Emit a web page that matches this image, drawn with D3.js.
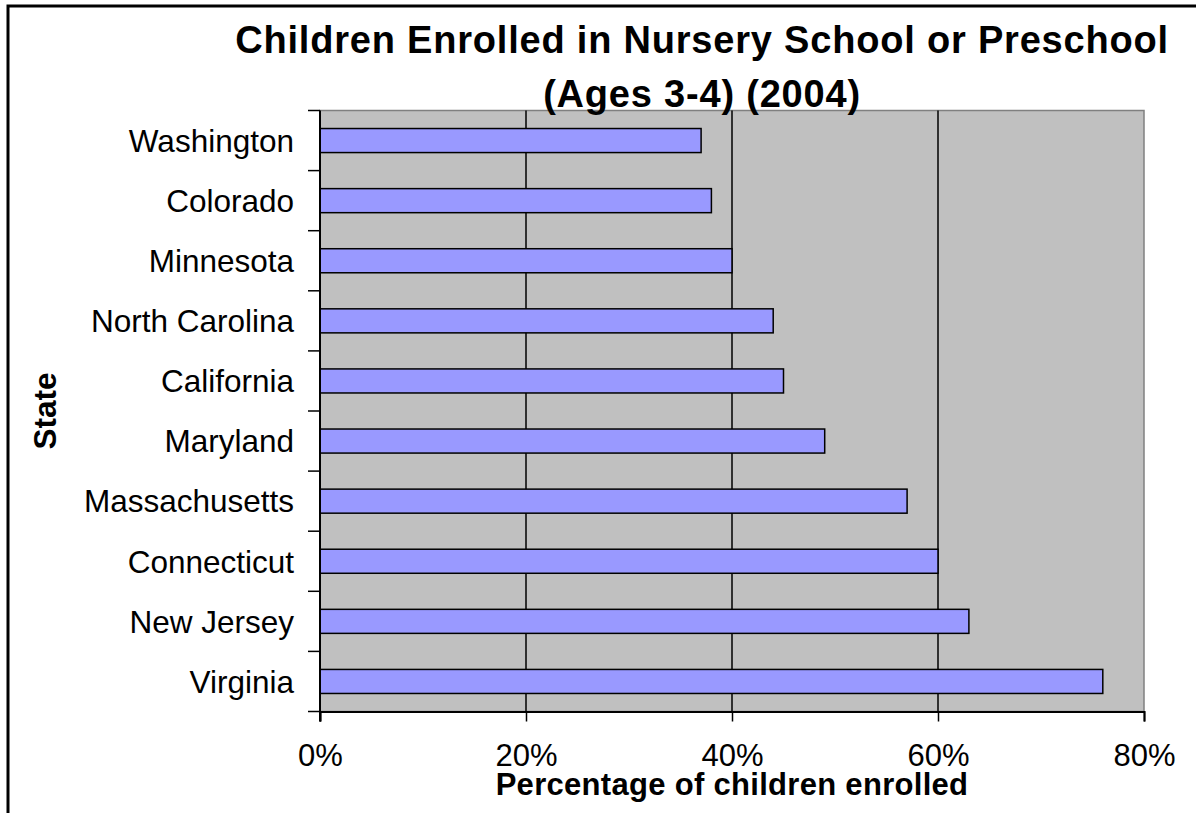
<!DOCTYPE html>
<html>
<head>
<meta charset="utf-8">
<script src="https://cdn.jsdelivr.net/npm/d3@7"></script>
<style>
  html, body { margin: 0; padding: 0; background: #fff; }
  svg { display: block; }
  text { font-family: "Liberation Sans", Arial, sans-serif; fill: #000; }
</style>
</head>
<body>
<svg id="chart" width="1196" height="813"></svg>
<script>
// Share of children aged 3-4 enrolled in nursery school or preschool, 2004
const states = ["Washington", "Colorado", "Minnesota", "North Carolina", "California",
                "Maryland", "Massachusetts", "Connecticut", "New Jersey", "Virginia"];
const enrolled = [37, 38, 40, 44, 45, 49, 57, 60, 63, 76];
const xTicks = [0, 20, 40, 60, 80];

const titleLines = ["Children Enrolled in Nursery School or Preschool", "(Ages 3-4) (2004)"];
const xTitle = "Percentage of children enrolled";
const yTitle = "State";

const svg = d3.select("#chart");
const plot = { left: 320, top: 110.5, right: 1144, bottom: 711.5 };

// outer frame of the chart object
svg.append("rect")
  .attr("x", 8).attr("y", 6)
  .attr("width", 1220).attr("height", 840)
  .attr("fill", "#fff").attr("stroke", "#000").attr("stroke-width", 3);

const x = d3.scaleLinear().domain([0, 80]).range([plot.left, plot.right]);
const y = d3.scaleBand().domain(states).range([plot.top, plot.bottom]).paddingInner(0.6).paddingOuter(0.3);
const yBand = d3.scaleBand().domain(states).range([plot.top, plot.bottom]);

// plot area
svg.append("rect")
  .attr("x", plot.left).attr("y", plot.top)
  .attr("width", plot.right - plot.left).attr("height", plot.bottom - plot.top)
  .attr("fill", "#c0c0c0").attr("stroke", "#808080").attr("stroke-width", 1.5);

// vertical gridlines
svg.append("g").selectAll("line")
  .data(xTicks.filter(d => d > 0 && d < 80))
  .join("line")
  .attr("x1", d => x(d)).attr("x2", d => x(d))
  .attr("y1", plot.top).attr("y2", plot.bottom)
  .attr("stroke", "#000").attr("stroke-width", 1.5);

// bars
svg.append("g").selectAll("rect")
  .data(states)
  .join("rect")
  .attr("x", x(0))
  .attr("y", (d) => y(d))
  .attr("width", (d, i) => x(enrolled[i]) - x(0))
  .attr("height", y.bandwidth())
  .attr("fill", "#9999ff")
  .attr("stroke", "#000").attr("stroke-width", 1.5);

// x axis
const xAxis = d3.axisBottom(x)
  .tickValues(xTicks)
  .tickFormat(d => d + "%")
  .tickSize(10)
  .tickPadding(22);
const gx = svg.append("g")
  .attr("transform", `translate(0,${plot.bottom})`)
  .call(xAxis);
gx.select(".domain").attr("stroke", "#000").attr("stroke-width", 2);
gx.selectAll(".tick line").attr("stroke", "#000").attr("stroke-width", 1.5);
gx.selectAll(".tick text")
  .style("font-family", "'Liberation Sans', Arial, sans-serif")
  .style("font-size", "31px")
  .attr("fill", "#000");

// y axis: ticks sit on the band boundaries, labels at band centres
const gy = svg.append("g")
  .attr("transform", `translate(${plot.left},0)`);
gy.append("line")
  .attr("x1", 0).attr("x2", 0)
  .attr("y1", plot.top).attr("y2", plot.bottom + 10)
  .attr("stroke", "#000").attr("stroke-width", 2);
const bounds = states.map(s => yBand(s)).concat([plot.bottom]);
gy.selectAll("line.tk")
  .data(bounds)
  .join("line")
  .attr("class", "tk")
  .attr("x1", -12).attr("x2", 0)
  .attr("y1", d => d).attr("y2", d => d)
  .attr("stroke", "#000").attr("stroke-width", 1.5);
gy.selectAll("text")
  .data(states)
  .join("text")
  .attr("x", -26)
  .attr("y", d => yBand(d) + yBand.bandwidth() / 2)
  .attr("dy", "0.36em")
  .attr("text-anchor", "end")
  .style("font-size", "31.5px")
  .text(d => d);

// titles
svg.append("g").selectAll("text")
  .data(titleLines)
  .join("text")
  .attr("x", 702)
  .attr("y", (d, i) => 53 + i * 54)
  .attr("text-anchor", "middle")
  .style("font-size", "38px")
  .style("letter-spacing", "0.8px")
  .style("font-weight", "bold")
  .text(d => d);

svg.append("text")
  .attr("x", (plot.left + plot.right) / 2)
  .attr("y", 795)
  .attr("text-anchor", "middle")
  .style("font-size", "31px")
  .style("letter-spacing", "0.3px")
  .style("font-weight", "bold")
  .text(xTitle);

svg.append("text")
  .attr("transform", `translate(56,${(plot.top + plot.bottom) / 2}) rotate(-90)`)
  .attr("text-anchor", "middle")
  .style("font-size", "31.5px")
  .style("font-weight", "bold")
  .text(yTitle);
</script>
</body>
</html>
